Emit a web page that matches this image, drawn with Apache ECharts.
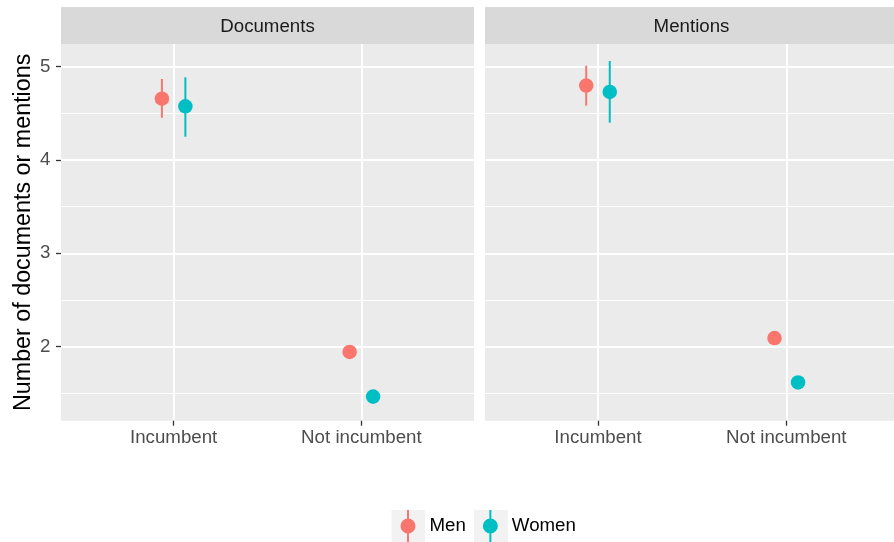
<!DOCTYPE html>
<html>
<head>
<meta charset="utf-8">
<script src="https://cdn.jsdelivr.net/npm/echarts@6/dist/echarts.min.js"></script>
<style>html,body{margin:0;padding:0;background:#fff}#c{width:894px;height:542px}</style>
</head>
<body>
<div id="c"></div>
<script>
const categories = ['Incumbent', 'Not incumbent'];
const facets = ['Documents', 'Mentions'];
const groups = ['Men', 'Women'];
const yTicks = [2, 3, 4, 5];
const yMinorTicks = [1.5, 2.5, 3.5, 4.5];
const yTitle = 'Number of documents or mentions';

// Documents facet
const docMenMean = [4.657, 1.944];
const docMenLow = [4.453, 1.879];
const docMenHigh = [4.868, 2.009];
const docWomenMean = [4.576, 1.465];
const docWomenLow = [4.250, 1.390];
const docWomenHigh = [4.886, 1.530];
// Mentions facet
const menMenMean = [4.798, 2.092];
const menMenLow = [4.582, 2.027];
const menMenHigh = [5.011, 2.157];
const menWomenMean = [4.729, 1.617];
const menWomenLow = [4.400, 1.552];
const menWomenHigh = [5.061, 1.682];

const colors = { Men: '#F8766D', Women: '#00BFC4' };
const dodge = { Men: -0.0625, Women: 0.0625 };
const yMin = 1.207, yMax = 5.243;

const dataSets = {
  Documents: {
    Men: [docMenMean, docMenLow, docMenHigh],
    Women: [docWomenMean, docWomenLow, docWomenHigh]
  },
  Mentions: {
    Men: [menMenMean, menMenLow, menMenHigh],
    Women: [menWomenMean, menWomenLow, menWomenHigh]
  }
};

const FONT = "'Liberation Sans', Arial, Helvetica, sans-serif";
const tickSize = 18.7;
const panelLeft = [61, 485];
const panelWidth = [413, 409];   // right panel is cut by the image edge
const xMaxes = [2.6, 2.572];
const panelTop = 44, panelH = 376.7;
const stripW = [413, 413];

const chart = echarts.init(document.getElementById('c'), null, { renderer: 'canvas' });

const grids = panelLeft.map((l, i) => ({
  left: l, top: panelTop, width: panelWidth[i], height: panelH,
  show: true, backgroundColor: '#EBEBEB', borderWidth: 0, containLabel: false
}));

const xAxes = facets.map((f, i) => ({
  gridIndex: i, type: 'value', min: 0.4, max: xMaxes[i],
  axisLine: { show: false },
  axisTick: { show: true, length: 5, customValues: [1, 2], lineStyle: { color: '#333333', width: 1.3 } },
  axisLabel: {
    customValues: [1, 2], margin: 7.5, color: '#4D4D4D', fontSize: tickSize, fontFamily: FONT,
    formatter: v => categories[Math.round(v) - 1] || ''
  },
  splitLine: { show: true, lineStyle: { color: '#FFFFFF', width: 2 } }
}));

const yAxes = [];
facets.forEach((f, i) => {
  yAxes.push({
    gridIndex: i, type: 'value', min: yMin, max: yMax, position: 'left',
    axisLine: { show: false },
    axisTick: { show: false, customValues: yMinorTicks },
    axisLabel: { show: false, customValues: yMinorTicks },
    splitLine: { show: true, lineStyle: { color: '#FFFFFF', width: 1 } }
  });
});
facets.forEach((f, i) => {
  yAxes.push({
    gridIndex: i, type: 'value', min: yMin, max: yMax, position: 'left',
    name: i === 0 ? yTitle : '',
    nameLocation: 'middle', nameGap: 26,
    nameTextStyle: { fontSize: 23.3, color: '#000000', fontFamily: FONT },
    axisLine: { show: false },
    axisTick: { show: i === 0, length: 5, customValues: yTicks, lineStyle: { color: '#333333', width: 1.3 } },
    axisLabel: { show: i === 0, customValues: yTicks, margin: 10.5, color: '#4D4D4D', fontSize: tickSize, fontFamily: FONT },
    splitLine: { show: true, lineStyle: { color: '#FFFFFF', width: 2 } }
  });
});

const series = [];
facets.forEach((f, fi) => {
  groups.forEach(g => {
    const [mean] = dataSets[f][g];
    series.push({
      name: g, type: 'scatter', xAxisIndex: fi, yAxisIndex: 2 + fi,
      symbol: 'circle', symbolSize: 14.5, z: 3,
      itemStyle: { color: colors[g], opacity: 1 },
      emphasis: { disabled: true },
      data: categories.map((c, ci) => [ci + 1 + dodge[g], mean[ci]])
    });
  });
});
facets.forEach((f, fi) => {
  groups.forEach(g => {
    const [mean, low, high] = dataSets[f][g];
    series.push({
      name: g, type: 'custom', xAxisIndex: fi, yAxisIndex: 2 + fi, z: 2,
      itemStyle: { color: colors[g] },
      encode: { x: 0, y: [1, 2] },
      data: categories.map((c, ci) => [ci + 1 + dodge[g], low[ci], high[ci]]),
      renderItem: (params, api) => {
        const x = api.value(0);
        const p1 = api.coord([x, api.value(1)]);
        const p2 = api.coord([x, api.value(2)]);
        return {
          type: 'line',
          shape: { x1: p1[0], y1: p1[1], x2: p2[0], y2: p2[1] },
          style: { stroke: colors[g], lineWidth: 2 }
        };
      }
    });
  });
});

const iconPath = 'path://M0 0L0 0ZM33 32L33 32ZM15.5 0L17.5 0L17.5 32L15.5 32ZM9 16A7.5 7.5 0 1 1 24 16A7.5 7.5 0 1 1 9 16Z';

const graphic = [];
facets.forEach((f, i) => {
  graphic.push({
    type: 'rect', z: 1,
    shape: { x: panelLeft[i], y: 7, width: stripW[i], height: 37 },
    style: { fill: '#D9D9D9' }
  });
  graphic.push({
    type: 'text', z: 2,
    x: panelLeft[i] + stripW[i] / 2, y: 26.5,
    style: { text: f, fill: '#1A1A1A', fontSize: tickSize, fontFamily: FONT, align: 'center', verticalAlign: 'middle' }
  });
});
graphic.push({ type: 'rect', z: 0, shape: { x: 391.5, y: 510, width: 33.5, height: 32 }, style: { fill: '#F2F2F2' } });
graphic.push({ type: 'rect', z: 0, shape: { x: 474, y: 510, width: 34, height: 32 }, style: { fill: '#F2F2F2' } });

chart.setOption({
  animation: false,
  backgroundColor: '#FFFFFF',
  textStyle: { fontFamily: FONT },
  grid: grids,
  xAxis: xAxes,
  yAxis: yAxes,
  legend: {
    data: groups.map(g => ({ name: g, icon: iconPath })),
    left: 391.5, top: 510, itemWidth: 33, itemHeight: 32, itemGap: 8,
    orient: 'horizontal', selectedMode: false, padding: 0,
    textStyle: { fontSize: tickSize, color: '#000000', fontFamily: FONT }
  },
  graphic: graphic,
  series: series
});
</script>
</body>
</html>
